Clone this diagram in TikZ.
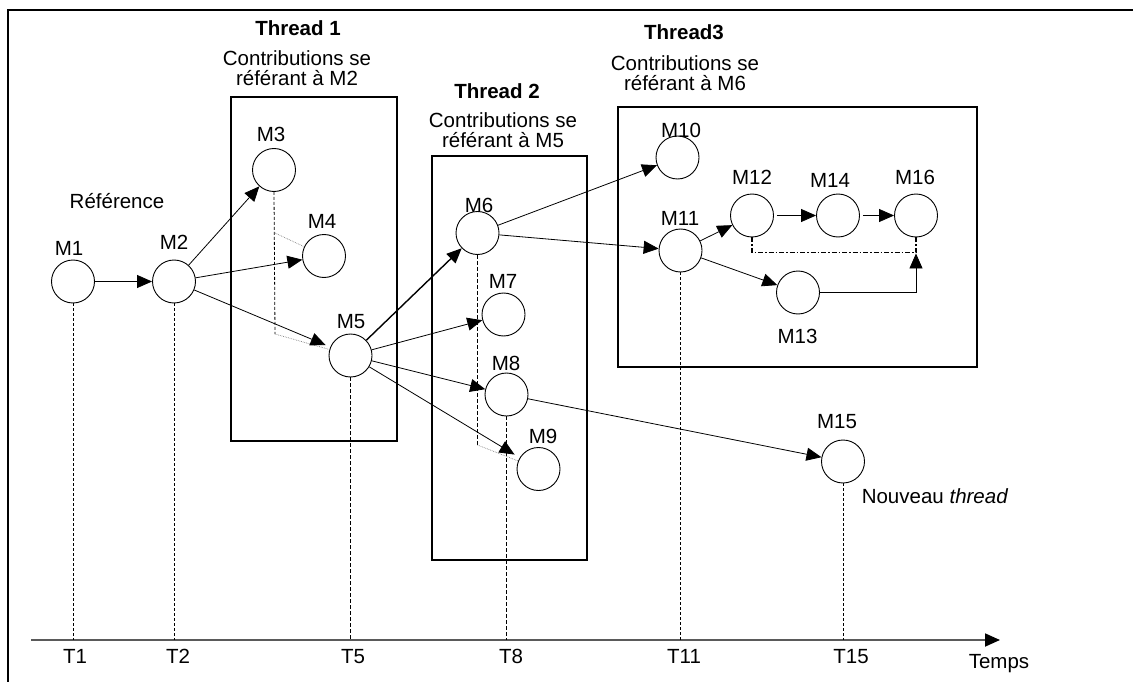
\documentclass[tikz,border=0pt]{standalone}
\usepackage{fontspec}
\setmainfont{Liberation Sans}
\usetikzlibrary{arrows.meta}
\begin{document}
\begin{tikzpicture}[x=1pt,y=-1pt,
  msg/.style={circle,draw,line width=0.9pt,minimum size=43pt,inner sep=0pt},
  lbl/.style={anchor=base,inner sep=0pt,font=\fontsize{20.5}{22}\selectfont},
  ttl/.style={anchor=base,inner sep=0pt,font=\fontsize{20.5}{22}\selectfont\bfseries},
  arr/.style={line width=0.8pt,-{Triangle[length=15pt,width=13pt]}},
  thickarr/.style={line width=1.4pt,-{Triangle[length=15pt,width=13pt]}},
  box/.style={draw,line width=1.1pt},
  tdash/.style={line width=0.8pt,dash pattern=on 3pt off 2pt},
  bdash/.style={line width=1.5pt,dash pattern=on 4pt off 2pt},
  tree/.style={line width=0.7pt,gray,densely dotted},
  ddot/.style={line width=1.4pt,dash pattern=on 5pt off 2pt on 1.5pt off 2pt},
  axis/.style={line width=1.8pt,draw={rgb,255:red,90;green,90;blue,90},-{Triangle[length=15pt,width=13pt,color=black]}},
]
\useasboundingbox (0,0) rectangle (1133,682);
% frame
\draw[line width=2.2pt] (8,682) -- (8,10) -- (1133,10);

% thread boxes
\draw[box] (231,97) rectangle (397,441);
\draw[box] (432,156) rectangle (587,560);
\draw[box] (618,107) rectangle (977,367);

% titles
\node[ttl] (t1a) at (298,36) {Thread 1};
\node[lbl] (t1b) at (297,66) {Contributions se};
\node[lbl] (t1c) at (297,86) {référant à M2};
\node[ttl] (t2a) at (497,99) {Thread 2};
\node[lbl] (t2b) at (503,128) {Contributions se};
\node[lbl] (t2c) at (503,148) {référant à M5};
\node[ttl] (t3a) at (684,40) {Thread3};
\node[lbl] (t3b) at (685,71) {Contributions se};
\node[lbl] (t3c) at (685,91) {référant à M6};

% messages
\node[msg] (m1) at (73,281.5) {};
\node[msg] (m2) at (174,281.5) {};
\node[msg] (m3) at (274,170) {};
\node[msg] (m4) at (324,256) {};
\node[msg] (m5) at (350.5,355.5) {};
\node[msg] (m6) at (477.5,233) {};
\node[msg] (m7) at (503.5,314.5) {};
\node[msg] (m8) at (506.5,394.5) {};
\node[msg] (m9) at (538.5,469) {};
\node[msg] (m10) at (677.5,157.5) {};
\node[msg] (m11) at (680.5,250.5) {};
\node[msg] (m12) at (752,215.5) {};
\node[msg] (m13) at (798,292.5) {};
\node[msg] (m14) at (838,215.5) {};
\node[msg] (m15) at (843,461.5) {};
\node[msg] (m16) at (916,215.5) {};

% labels
\node[lbl] (l1) at (69,255) {M1};
\node[lbl] (l2) at (174,249) {M2};
\node[lbl] (l3) at (271,142) {M3};
\node[lbl] (l4) at (322,228) {M4};
\node[lbl] (l5) at (351,328) {M5};
\node[lbl] (l6) at (479,212) {M6};
\node[lbl] (l7) at (503,288) {M7};
\node[lbl] (l8) at (506,370) {M8};
\node[lbl] (l9) at (543,443) {M9};
\node[lbl] (l10) at (681,138) {M10};
\node[lbl] (l11) at (680,225) {M11};
\node[lbl] (l12) at (752,185) {M12};
\node[lbl] (l13) at (797.5,343) {M13};
\node[lbl] (l14) at (830,188) {M14};
\node[lbl] (l15) at (837,428) {M15};
\node[lbl] (l16) at (915,185) {M16};
\node[lbl] (ref) at (117,208) {Référence};
\node[lbl] (nouv) at (935,503) {Nouveau \textit{thread}};

% time axis
\coordinate (axL) at (31,640);
\coordinate (axR) at (1000,640);
\draw[axis] (axL) -- (axR);
\node[lbl] (tt1) at (75,663) {T1};
\node[lbl] (tt2) at (178,663) {T2};
\node[lbl] (tt5) at (353,663) {T5};
\node[lbl] (tt8) at (511,663) {T8};
\node[lbl] (tt11) at (684,663) {T11};
\node[lbl] (tt15) at (851,663) {T15};
\node[lbl] (temps) at (999,668) {Temps};

% vertical time lines
\draw[tdash] (m1.south) -- (m1.south |- axL);
\draw[tdash] (m2.south) -- (m2.south |- axL);
\draw[bdash] (m5.south) -- (m5.south |- axL);
\draw[bdash] (m8.south) -- (m8.south |- axL);
\draw[tdash] (m11.south) -- (m11.south |- axL);
\draw[tdash] (m15.south) -- (m15.south |- axL);

% thread 1 tree
\coordinate (c1) at (275,334);
\coordinate (c1b) at (275,233);
\draw[tdash] (m3.south) -- (c1);
\draw[tree] (c1) -- (m5);
\draw[tree] (c1b) -- (m4);

% thread 2 tree
\coordinate (c2) at (477.5,445);
\draw[bdash] (m6.south) -- (c2);
\draw[tree] (c2) -- (m9);

% thread 3 structure
\draw[ddot] (m12.south) -- ++(0,15) -| (m16.south);
\draw[arr,shorten >=16pt] (m13.east) -| (m16.south);

% arrows
\draw[arr] (m1) -- (m2);
\draw[arr] (m2) -- (m3);
\draw[arr] (m2) -- (m4);
\draw[arr,shorten >=5pt] (m2) -- (m5);
\draw[thickarr] (m5) -- (m6);
\draw[arr] (m5) -- (m7);
\draw[arr] (m5) -- (m8);
\draw[arr,shorten >=6pt] (m5) -- (m9);
\draw[arr] (m6) -- (m10);
\draw[arr] (m6) -- (m11);
\draw[arr] (m8) -- (m15);
\draw[arr] (m11) -- (m12);
\draw[arr] (m11) -- (m13);
\draw[arr,shorten <=3pt] (m12) -- (m14);
\draw[arr,shorten <=3pt] (m14) -- (m16);
\end{tikzpicture}
\end{document}
